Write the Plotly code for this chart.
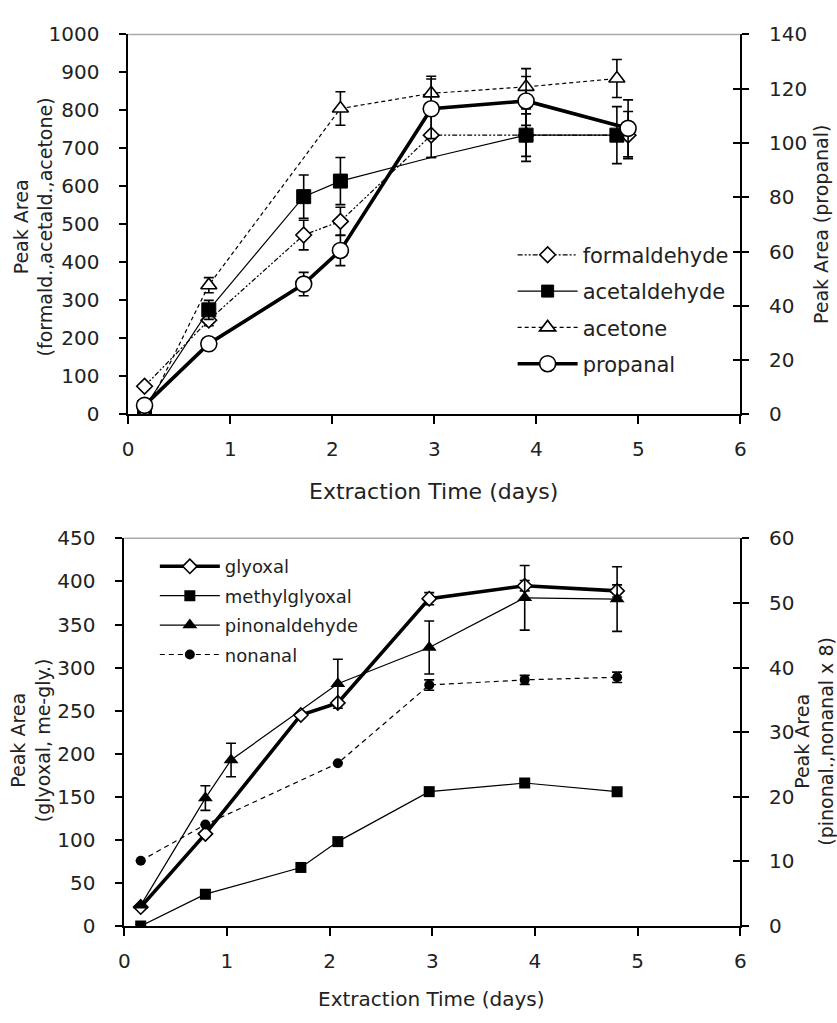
import plotly.graph_objects as go

# ---------------- data: top panel ----------------
t_formald = [0.16, 0.79, 1.72, 2.08, 2.97, 3.90, 4.90]
formaldehyde = [74, 248, 472, 508, 735, 735, 735]
formaldehyde_err = [0, 15, 39, 37, 59, 56, 62]

t_acetald = [0.16, 0.79, 1.72, 2.08, 2.97, 3.90, 4.79]
acetaldehyde = [18, 275, 573, 614, 676, 735, 735]
acetaldehyde_err = [0, 25, 57, 62, 0, 69, 75]

t_acetone = [0.16, 0.79, 2.08, 2.97, 3.90, 4.79]
acetone = [0, 340, 805, 845, 862, 884]
acetone_err = [0, 20, 44, 45, 48, 50]

t_propanal = [0.16, 0.79, 1.72, 2.08, 2.97, 3.90, 4.90]
propanal = [3.3, 26, 48, 60.4, 112.6, 115.5, 105.4]
propanal_err = [0, 0, 4.3, 5.6, 11, 9, 10.5]

# ---------------- data: bottom panel ----------------
t_gly = [0.16, 0.79, 1.72, 2.08, 2.97, 3.90, 4.80]
glyoxal = [22, 107, 245, 259, 380, 395, 389]
glyoxal_err = [0, 0, 0, 3, 7, 6, 7]

t_mgly = [0.16, 0.79, 1.72, 2.08, 2.97, 3.90, 4.80]
methylglyoxal = [0, 37, 68, 98, 156, 166, 156]

t_pinon = [0.16, 0.79, 1.04, 2.08, 2.97, 3.90, 4.80]
pinonaldehyde = [3.2, 19.8, 25.7, 37.5, 43.1, 50.8, 50.6]
pinonaldehyde_err = [0, 1.9, 2.6, 3.8, 4.1, 5, 5]

t_nonanal = [0.16, 0.79, 2.08, 2.97, 3.90, 4.80]
nonanal = [10.1, 15.7, 25.2, 37.3, 38.1, 38.5]
nonanal_err = [0, 0, 0, 0.8, 0.7, 0.8]

x_ticks = [0, 1, 2, 3, 4, 5, 6]
top_left_ticks = [0, 100, 200, 300, 400, 500, 600, 700, 800, 900, 1000]
top_right_ticks = [0, 20, 40, 60, 80, 100, 120, 140]
bot_left_ticks = [0, 50, 100, 150, 200, 250, 300, 350, 400, 450]
bot_right_ticks = [0, 10, 20, 30, 40, 50, 60]

FONT = "DejaVu Sans"
W, H = 837, 1023


def err(arr):
    return dict(type="data", array=arr, visible=True, color="black", thickness=1.6, width=5)


fig = go.Figure()

# top panel traces
fig.add_trace(go.Scatter(
    x=t_formald, y=formaldehyde, name="formaldehyde", legend="legend", legendgroup="a",
    mode="lines+markers", xaxis="x", yaxis="y",
    line=dict(color="black", width=1.2, dash="5px,2px,2px,2px,2px,2px"),
    marker=dict(symbol="diamond", size=12, color="white", line=dict(color="black", width=1.6)),
    error_y=err(formaldehyde_err)))
fig.add_trace(go.Scatter(
    x=t_acetald, y=acetaldehyde, name="acetaldehyde", legend="legend", legendgroup="b",
    mode="lines+markers", xaxis="x", yaxis="y",
    line=dict(color="black", width=1.2),
    marker=dict(symbol="square", size=[0 if t == 2.97 else 14 for t in t_acetald],
                color="black", opacity=1, line=dict(color="black", width=1)),
    error_y=err(acetaldehyde_err)))
fig.add_trace(go.Scatter(
    x=t_acetone, y=acetone, name="acetone", legend="legend", legendgroup="c",
    mode="lines+markers", xaxis="x", yaxis="y",
    line=dict(color="black", width=1.2, dash="4px,3px"),
    marker=dict(symbol="triangle-up", size=14, color="white", line=dict(color="black", width=1.6)),
    error_y=err(acetone_err)))
fig.add_trace(go.Scatter(
    x=t_propanal, y=propanal, name="propanal", legend="legend", legendgroup="d",
    mode="lines+markers", xaxis="x", yaxis="y2",
    line=dict(color="black", width=3.6),
    marker=dict(symbol="circle", size=16, color="white", line=dict(color="black", width=1.6)),
    error_y=err(propanal_err)))

# bottom panel traces
fig.add_trace(go.Scatter(
    x=t_gly, y=glyoxal, name="glyoxal", legend="legend2", legendgroup="e",
    mode="lines+markers", xaxis="x2", yaxis="y3",
    line=dict(color="black", width=3.6),
    marker=dict(symbol="diamond", size=11, color="white", line=dict(color="black", width=1.6)),
    error_y=err(glyoxal_err)))
fig.add_trace(go.Scatter(
    x=t_mgly, y=methylglyoxal, name="methylglyoxal", legend="legend2", legendgroup="f",
    mode="lines+markers", xaxis="x2", yaxis="y3",
    line=dict(color="black", width=1.2),
    marker=dict(symbol="square", size=11, color="black")))
fig.add_trace(go.Scatter(
    x=t_pinon, y=pinonaldehyde, name="pinonaldehyde", legend="legend2", legendgroup="g",
    mode="lines+markers", xaxis="x2", yaxis="y4",
    line=dict(color="black", width=1.2),
    marker=dict(symbol="triangle-up", size=13, color="black"),
    error_y=err(pinonaldehyde_err)))
fig.add_trace(go.Scatter(
    x=t_nonanal, y=nonanal, name="nonanal", legend="legend2", legendgroup="h",
    mode="lines+markers", xaxis="x2", yaxis="y4",
    line=dict(color="black", width=1.2, dash="5px,4px"),
    marker=dict(symbol="circle", size=10, color="black"),
    error_y=err(nonanal_err)))

# empty helper traces so the inner-tick axes on the right are rendered
fig.add_trace(go.Scatter(x=[], y=[], xaxis="x", yaxis="y5", showlegend=False, hoverinfo="skip"))
fig.add_trace(go.Scatter(x=[], y=[], xaxis="x2", yaxis="y6", showlegend=False, hoverinfo="skip"))

# domains (pixel based)
top_x = [124 / W, 745 / W]
top_y = [1 - 412 / H, 1 - 23 / H]
bot_x = [120 / W, 745 / W]
bot_y = [1 - 936 / H, 1 - 539 / H]

tickfont = dict(family=FONT, size=20, color="#222")
common_x = dict(range=[0, 6], tickvals=x_ticks, showgrid=False, zeroline=False,
                showline=True, linecolor="black", linewidth=1.6,
                ticks="outside", ticklen=8, tickwidth=1.6, tickcolor="black",
                tickfont=tickfont, ticklabelstandoff=8)
common_y = dict(showgrid=False, zeroline=False, showline=True, linecolor="black", linewidth=1.6,
                ticks="outside", ticklen=7, tickwidth=1.6, tickcolor="black",
                tickfont=tickfont, ticklabelstandoff=16)
cross_y = dict(showgrid=False, zeroline=False, showline=False, ticks="inside", ticklen=7,
               tickwidth=1.6, tickcolor="black", showticklabels=False, side="right")

fig.update_layout(
    width=W, height=H, margin=dict(l=0, r=0, t=0, b=0),
    paper_bgcolor="white", plot_bgcolor="white",
    font=dict(family=FONT, color="#222"),
    xaxis=dict(domain=top_x, anchor="y", **common_x),
    yaxis=dict(domain=top_y, anchor="x", range=[0, 1000], tickvals=top_left_ticks, **common_y),
    yaxis2=dict(overlaying="y", anchor="x", side="right", range=[0, 140], tickvals=top_right_ticks,
                **common_y),
    yaxis5=dict(overlaying="y", anchor="x", range=[0, 140], tickvals=top_right_ticks, **cross_y),
    xaxis2=dict(domain=bot_x, anchor="y3", **common_x),
    yaxis3=dict(domain=bot_y, anchor="x2", range=[0, 450], tickvals=bot_left_ticks, **common_y),
    yaxis4=dict(overlaying="y3", anchor="x2", side="right", range=[0, 60], tickvals=bot_right_ticks,
                **common_y),
    yaxis6=dict(overlaying="y3", anchor="x2", range=[0, 60], tickvals=bot_right_ticks, **cross_y),
    legend=dict(x=514 / W, y=1 - 228 / H, xanchor="left", yanchor="top",
                font=dict(family=FONT, size=21, color="#222"), tracegroupgap=6,
                bgcolor="rgba(0,0,0,0)", itemwidth=60),
    legend2=dict(x=151 / W, y=1 - 549 / H, xanchor="left", yanchor="top",
                 font=dict(family=FONT, size=18, color="#222"), tracegroupgap=3,
                 bgcolor="rgba(0,0,0,0)", itemwidth=60),
    shapes=[
        dict(type="line", xref="x domain", yref="y domain", x0=0, x1=1, y0=1, y1=1,
             line=dict(color="#aaaaaa", width=1.5)),
        dict(type="line", xref="x2 domain", yref="y3 domain", x0=0, x1=1, y0=1, y1=1,
             line=dict(color="#aaaaaa", width=1.5)),
    ],
)

ann_font = dict(family=FONT, size=19, color="#222")
annotations = [
    dict(text="Extraction Time (days)", x=434 / W, y=1 - 491 / H, font=dict(family=FONT, size=22, color="#222")),
    dict(text="Extraction Time (days)", x=432 / W, y=1 - 1011 / H, font=dict(family=FONT, size=20, color="#222")),
    dict(text="Peak Area<br>(formald.,acetald.,acetone)", x=28 / W, y=1 - 220 / H, textangle=-90, font=ann_font),
    dict(text="Peak Area (propanal)", x=827 / W, y=1 - 217 / H, textangle=-90, font=ann_font),
    dict(text="Peak Area<br>(glyoxal, me-gly.)", x=25 / W, y=1 - 746 / H, textangle=-90, font=ann_font),
    dict(text="Peak Area<br>(pinonal.,nonanal x 8)", x=820 / W, y=1 - 747 / H, textangle=-90, font=ann_font),
]
for a in annotations:
    fig.add_annotation(xref="paper", yref="paper", showarrow=False, xanchor="center", yanchor="middle", **a)

fig.write_html("out.html")
